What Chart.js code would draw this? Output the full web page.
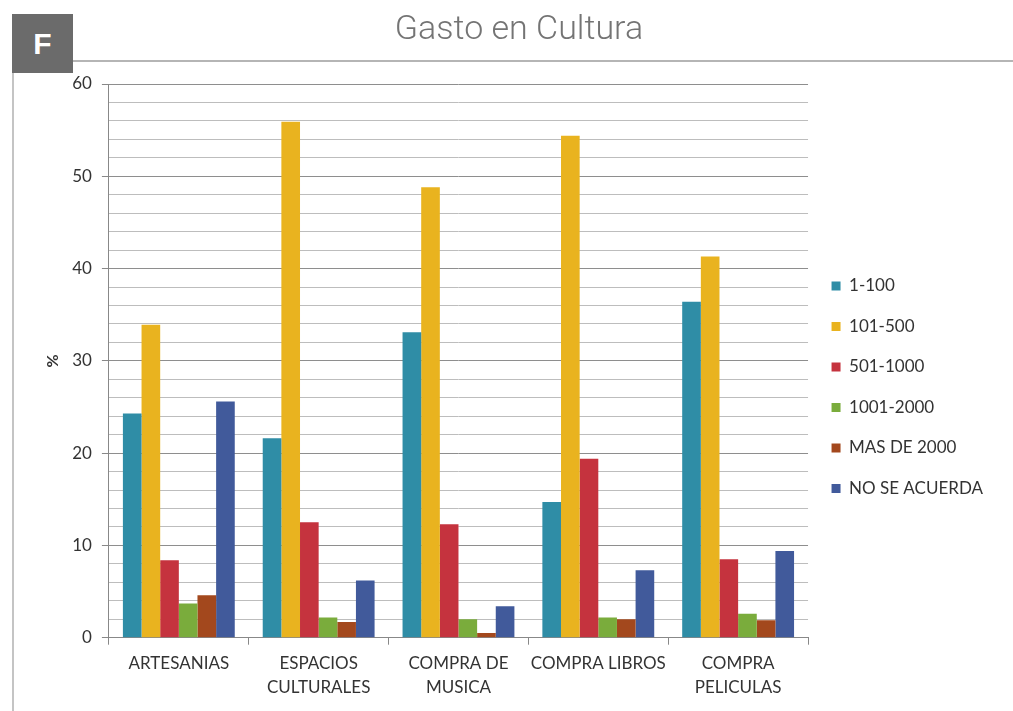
<!DOCTYPE html>
<html>
<head>
<meta charset="utf-8">
<script src="https://cdn.jsdelivr.net/npm/chart.js@4/dist/chart.umd.min.js"></script>
<style>
  html, body { margin: 0; padding: 0; background: #ffffff; }
  #wrap { position: relative; width: 1013px; height: 711px; overflow: hidden; }
  #frame { position: absolute; left: 12px; top: 60px; width: 1010px; height: 660px;
           border-top: 2px solid #b5b5b5; border-left: 2px solid #c4c4c4; box-sizing: border-box; }
  #badge { position: absolute; left: 12px; top: 14px; width: 61px; height: 59px; background: #6b6b6b;
           color: #fff; font: bold 30px "Liberation Sans", Arial, sans-serif; text-align: center; line-height: 60px; z-index: 3; }
  #title { position: absolute; left: 0; width: 1038px; top: 7px; text-align: center;
           font: 300 34px Roboto, "Liberation Sans", sans-serif; color: #747474; z-index: 3; }
  canvas { position: absolute; left: 0; top: 0; z-index: 2; }
</style>
</head>
<body>
<div id="wrap">
  <div id="frame"></div>
  <div id="badge">F</div>
  <div id="title">Gasto en Cultura</div>
  <canvas id="c" width="1013" height="711"></canvas>
</div>
<script>
const categories = [["ARTESANIAS"], ["ESPACIOS", "CULTURALES"], ["COMPRA DE", "MUSICA"], ["COMPRA LIBROS"], ["COMPRA", "PELICULAS"]];
const seriesNames = ["1-100", "101-500", "501-1000", "1001-2000", "MAS DE 2000", "NO SE ACUERDA"];
const s1_100      = [24.3, 21.6, 33.1, 14.7, 36.4];
const s101_500    = [33.9, 55.9, 48.8, 54.4, 41.3];
const s501_1000   = [8.4, 12.5, 12.3, 19.4, 8.5];
const s1001_2000  = [3.7, 2.2, 2.0, 2.2, 2.6];
const sMas2000    = [4.6, 1.7, 0.5, 2.0, 1.9];
const sNoAcuerda  = [25.6, 6.2, 3.4, 7.3, 9.4];
const yTicks = [0, 10, 20, 30, 40, 50, 60];
const colors = ["#2f8da6", "#e9b31f", "#c5333e", "#7aac3c", "#a3481d", "#415a9b"];

const seriesValues = [s1_100, s101_500, s501_1000, s1001_2000, sMas2000, sNoAcuerda];
const FONT = "Lato, 'Open Sans', sans-serif";

new Chart(document.getElementById('c'), {
  type: 'bar',
  data: {
    labels: categories,
    datasets: seriesNames.map((n, i) => ({
      label: n,
      data: seriesValues[i],
      backgroundColor: colors[i],
      borderWidth: 0,
      categoryPercentage: 0.8,
      barPercentage: 1.0
    }))
  },
  options: {
    responsive: false,
    animation: false,
    layout: { padding: { top: 84, left: 27, right: 20, bottom: 5 } },
    plugins: {
      tooltip: { enabled: false },
      legend: {
        position: 'right',
        align: 'start',
        title: { display: true, text: '', font: { size: 10, lineHeight: 1.2 }, padding: { top: 158, bottom: 0 } },
        labels: {
          boxWidth: 9, boxHeight: 9, padding: 23.5,
          color: '#333', font: { family: FONT, size: 17 }
        }
      }
    },
    scales: {
      x: {
        grid: { offset: true, drawOnChartArea: false, tickLength: 7, color: '#888' },
        border: { color: '#888' },
        ticks: { color: '#333', padding: 6, font: { family: FONT, size: 17, lineHeight: 1.45 }, maxRotation: 0, autoSkip: false }
      },
      y: {
        min: 0, max: 60,
        border: { color: '#888' },
        title: { display: true, text: '%', color: '#333', font: { family: FONT, size: 16, weight: 'bold' }, padding: { top: 16, bottom: 0 } },
        grid: {
          color: ctx => (ctx.tick && ctx.tick.value % 10 === 0) ? '#8e8e8e' : '#bdbdbd',
          tickColor: ctx => (ctx.tick && ctx.tick.value % 10 === 0) ? '#888' : 'rgba(0,0,0,0)',
          tickLength: 7
        },
        ticks: {
          stepSize: 2,
          autoSkip: false,
          color: '#333',
          padding: 10,
          font: { family: FONT, size: 17 },
          callback: v => yTicks.includes(v) ? String(v) : ''
        }
      }
    }
  }
});
</script>
</body>
</html>
